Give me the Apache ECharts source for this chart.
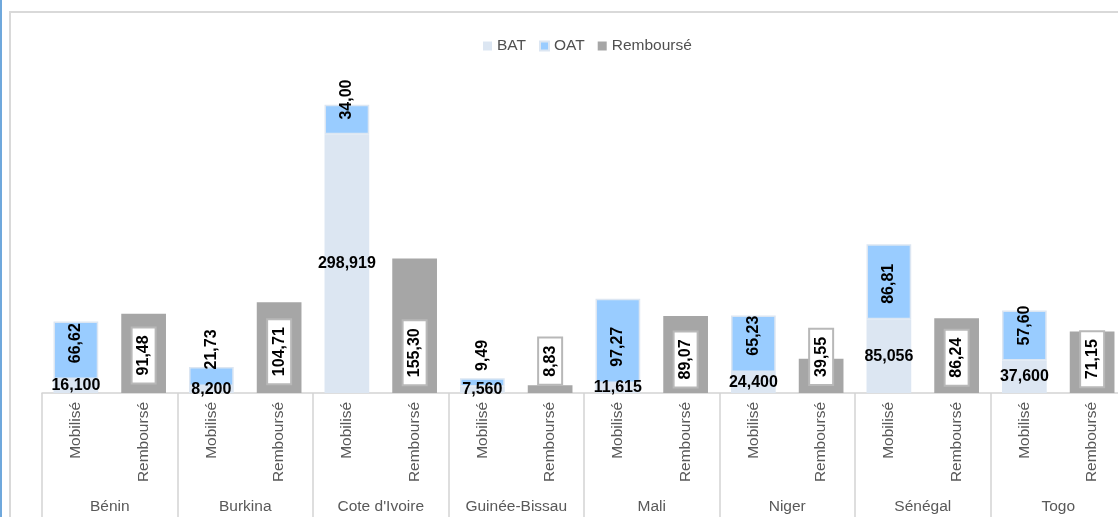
<!DOCTYPE html>
<html><head><meta charset="utf-8">
<script src="https://cdn.jsdelivr.net/npm/echarts@6/dist/echarts.min.js"></script>
<style>html,body{margin:0;padding:0;background:#fff}#c{width:1118px;height:517px}</style>
</head><body><div id="c"></div>
<script>
// ---- data ----
const countries = ["Bénin", "Burkina", "Cote d'Ivoire", "Guinée-Bissau", "Mali", "Niger", "Sénégal", "Togo"];
const subCats = ["Mobilisé", "Remboursé"];
const bat = [16.100, 8.200, 298.919, 7.560, 11.615, 24.400, 85.056, 37.600];
const oat = [66.62, 21.73, 34.00, 9.49, 97.27, 65.23, 86.81, 57.60];
const rembourse = [91.48, 104.71, 155.30, 8.83, 89.07, 39.55, 86.24, 71.15];

// ---- label nudges (screen px, + = down) : styling only ----
const oatNudge = [-7, -27, -20, -27, 6, -8, 2, -10];
const rembNudge = [2, 4, 27, -28, 5, -19, 2, -3];

const FONT = "'Liberation Sans', Arial, sans-serif";
const fmt = (v, d) => v.toFixed(d).replace('.', ',');

const xSub = [], batData = [], oatData = [], rembData = [];
countries.forEach((c, i) => {
  xSub.push(subCats[0], subCats[1]);
  batData.push(bat[i], '-');
  oatData.push({ value: oat[i], label: { offset: [-oatNudge[i], 0] } }, '-');
  rembData.push('-', { value: rembourse[i], label: { offset: [-rembNudge[i], 0] } });
});

const chart = echarts.init(document.getElementById('c'), null, { renderer: 'canvas' });
chart.setOption({
  animation: false,
  textStyle: { fontFamily: FONT },
  graphic: [
    { type: 'rect', z: -10, shape: { x: 10, y: 12, width: 1200, height: 600 },
      style: { fill: '#ffffff', stroke: '#d9d9d9', lineWidth: 2 } },
    { type: 'rect', z: -10, shape: { x: 0, y: 0, width: 2, height: 517 },
      style: { fill: '#6fa8dc' } }
  ],
  legend: {
    left: 483, top: 38, padding: 0, itemWidth: 9, itemHeight: 9, itemGap: 13,
    icon: 'rect',
    textStyle: { fontSize: 15.5, color: '#505050', fontFamily: FONT },
    data: ['BAT', 'OAT', 'Remboursé']
  },
  grid: { left: 42, width: 1084, top: 90, height: 303, containLabel: false, outerBoundsMode: 'none' },
  xAxis: [
    { type: 'category', data: xSub, position: 'bottom',
      axisLine: { show: true, lineStyle: { color: '#d4d4d4', width: 1.5 } },
      axisTick: { show: false },
      axisLabel: { interval: 0, rotate: 90, margin: 9, fontSize: 15.5, color: '#595959', fontFamily: FONT } },
    { type: 'category', data: countries, position: 'bottom',
      axisLine: { show: false },
      axisTick: { show: true, length: 140, lineStyle: { color: '#d4d4d4', width: 1.5 } },
      axisLabel: { interval: 0, margin: 106, fontSize: 15.5, color: '#595959', fontFamily: FONT } }
  ],
  yAxis: { type: 'value', min: 0, max: 350, show: false, splitLine: { show: false } },
  series: [
    { name: 'BAT', type: 'bar', stack: 'a', barWidth: '66%', xAxisIndex: 0,
      itemStyle: { color: '#dce6f2' },
      label: { show: true, position: 'inside', fontSize: 16, fontWeight: 'bold', color: '#000',
        formatter: p => fmt(p.value, 3) },
      data: batData },
    { name: 'OAT', type: 'bar', stack: 'a', barWidth: '66%', xAxisIndex: 0,
      itemStyle: { color: '#99ccff', borderColor: '#dce6f2', borderWidth: 1.5 },
      label: { show: true, position: 'inside', rotate: 90, fontSize: 16, fontWeight: 'bold', color: '#000',
        formatter: p => fmt(p.value, 2) },
      data: oatData },
    { name: 'Remboursé', type: 'bar', stack: 'a', barWidth: '66%', xAxisIndex: 0,
      itemStyle: { color: '#a6a6a6' },
      label: { show: true, position: 'inside', rotate: 90, fontSize: 16, fontWeight: 'bold', color: '#000',
        backgroundColor: '#fff', borderColor: '#b8b8b8', borderWidth: 2, padding: [4, 7, 2, 7],
        formatter: p => fmt(p.value, 2) },
      data: rembData }
  ]
});
</script></body></html>
